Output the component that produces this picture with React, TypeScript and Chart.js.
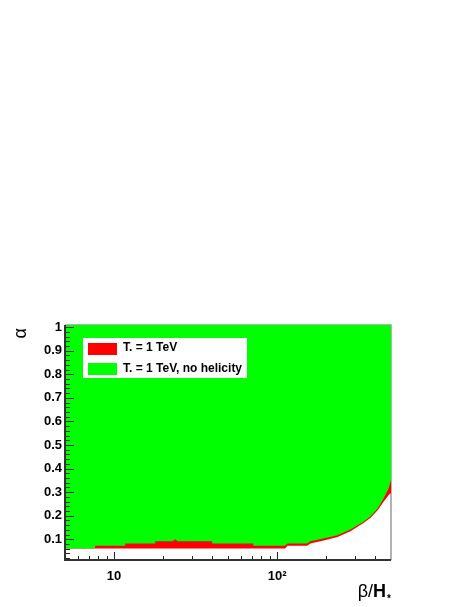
import React, { useEffect, useRef } from "react";
import { Chart, registerables } from "chart.js";
Chart.register(...registerables);

const W = 469;
const H = 607;

const xMin = 5;
const xMax = 500;
const yMin = 0.012;
const yMax = 1.009;

const yTickValues = [0.1, 0.2, 0.3, 0.4, 0.5, 0.6, 0.7, 0.8, 0.9, 1];
const xMajorTicks = [10, 100];
const xTickLabels = ["10", "10²"];
const xMinorTicks = [6, 7, 8, 9, 20, 30, 40, 50, 60, 70, 80, 90, 200, 300, 400];

// Lower boundary of the "no helicity" region (green)
const greenX = [5, 7.64, 7.64, 11.7, 11.7, 17.9, 17.9, 22.8, 23.7, 24.6, 40, 40, 71.5, 71.5, 112, 116, 153, 160, 193, 235, 282, 339, 375, 414, 450, 483, 500];
const greenY = [0.061, 0.061, 0.072, 0.072, 0.082, 0.082, 0.092, 0.092, 0.1, 0.092, 0.092, 0.082, 0.082, 0.072, 0.072, 0.082, 0.082, 0.092, 0.103, 0.117, 0.141, 0.174, 0.198, 0.231, 0.273, 0.315, 0.351];

// Lower boundary of the T* = 1 TeV region (red)
const redX = [5, 112, 116, 153, 160, 193, 235, 282, 339, 375, 414, 450, 483, 500];
const redY = [0.061, 0.061, 0.072, 0.072, 0.082, 0.095, 0.11, 0.134, 0.169, 0.191, 0.223, 0.259, 0.287, 0.297];

const legendLabels = ["T. = 1 TeV", "T. = 1 TeV, no helicity"];
const RED = "#ff0000";
const GREEN = "#00ff00";
const FONT = "'Liberation Sans', Arial, Helvetica, sans-serif";

const toPoints = (xs: number[], ys: number[]) => xs.map((x, i) => ({ x, y: ys[i] }));

const decorPlugin = {
  id: "decor",
  beforeDatasetsDraw(chart: any) {
    const { ctx, chartArea: a } = chart;
    ctx.save();
    ctx.strokeStyle = "#9a9a9a";
    ctx.lineWidth = 1.5;
    ctx.beginPath();
    ctx.moveTo(a.left, a.top);
    ctx.lineTo(a.right, a.top);
    ctx.lineTo(a.right, a.bottom);
    ctx.stroke();
    ctx.restore();
  },
  afterDatasetsDraw(chart: any) {
    const { ctx, chartArea: a, scales } = chart;
    const xs = scales.x;
    const ys = scales.y;
    ctx.save();

    // Legend
    const lx = a.left + 18;
    const ly = a.top + 13;
    ctx.fillStyle = "#ffffff";
    ctx.fillRect(lx, ly, 164, 40);
    const colors = [RED, GREEN];
    ctx.font = `bold 12px ${FONT}`;
    ctx.textBaseline = "middle";
    ctx.textAlign = "left";
    legendLabels.forEach((lab, i) => {
      ctx.fillStyle = colors[i];
      ctx.fillRect(lx + 5, ly + 5 + i * 20, 29, 12);
      ctx.fillStyle = "#000";
      ctx.fillText(lab, lx + 40, ly + 10 + i * 21);
    });

    // Inner ticks
    ctx.strokeStyle = "#222";
    ctx.lineWidth = 1;
    ctx.beginPath();
    yTickValues.forEach((v) => {
      const p = Math.round(ys.getPixelForValue(v)) + 0.5;
      ctx.moveTo(a.left, p);
      ctx.lineTo(a.left + 9, p);
    });
    for (let k = 1; k <= 50; k++) {
      const v = k * 0.02;
      if (k % 5 === 0) continue;
      const p = Math.round(ys.getPixelForValue(v)) + 0.5;
      if (p > a.bottom) continue;
      ctx.moveTo(a.left, p);
      ctx.lineTo(a.left + 5, p);
    }
    xMajorTicks.forEach((v) => {
      const p = Math.round(xs.getPixelForValue(v)) + 0.5;
      ctx.moveTo(p, a.bottom);
      ctx.lineTo(p, a.bottom - 8);
    });
    xMinorTicks.forEach((v) => {
      const p = Math.round(xs.getPixelForValue(v)) + 0.5;
      ctx.moveTo(p, a.bottom);
      ctx.lineTo(p, a.bottom - 4);
    });
    ctx.stroke();

    // Axis lines
    ctx.strokeStyle = "#333";
    ctx.lineWidth = 2;
    ctx.beginPath();
    ctx.moveTo(a.left, a.top);
    ctx.lineTo(a.left, a.bottom);
    ctx.lineTo(a.right, a.bottom);
    ctx.stroke();

    // X title: β/H*
    ctx.fillStyle = "#000";
    ctx.textBaseline = "alphabetic";
    ctx.textAlign = "left";
    const base = 597;
    ctx.font = `18px ${FONT}`;
    const p1 = "β/";
    const w1 = ctx.measureText(p1).width;
    ctx.font = `bold 18px ${FONT}`;
    const w2 = ctx.measureText("H").width;
    ctx.font = `bold 10px ${FONT}`;
    const w3 = ctx.measureText("*").width;
    let sx = a.right - (w1 + w2 + w3 + 1);
    ctx.font = `18px ${FONT}`;
    ctx.fillText(p1, sx, base);
    sx += w1;
    ctx.font = `bold 18px ${FONT}`;
    ctx.fillText("H", sx, base);
    sx += w2 + 1;
    ctx.font = `bold 10px ${FONT}`;
    ctx.fillText("*", sx, base + 5);

    // Y title: α
    ctx.save();
    ctx.translate(26, a.top + 3);
    ctx.rotate(-Math.PI / 2);
    ctx.font = `18px ${FONT}`;
    ctx.textAlign = "right";
    ctx.textBaseline = "alphabetic";
    ctx.fillText("α", 0, 0);
    ctx.restore();

    ctx.restore();
  },
};

export default function App() {
  const ref = useRef<HTMLCanvasElement | null>(null);
  useEffect(() => {
    document.body.style.margin = "0";
    const canvas = ref.current;
    if (!canvas) return;
    const chart = new Chart(canvas, {
      type: "line",
      data: {
        datasets: [
          {
            label: legendLabels[0],
            data: toPoints(redX, redY),
            backgroundColor: RED,
            borderColor: RED,
            borderWidth: 0,
            pointRadius: 0,
            fill: "end",
            tension: 0,
            order: 1,
          },
          {
            label: legendLabels[1],
            data: toPoints(greenX, greenY),
            backgroundColor: GREEN,
            borderColor: GREEN,
            borderWidth: 0,
            pointRadius: 0,
            fill: "end",
            tension: 0,
            order: 0,
          },
        ],
      },
      options: {
        animation: false,
        responsive: false,
        devicePixelRatio: 1,
        layout: { padding: { top: 325, right: 78, left: 0, bottom: 0 } },
        plugins: { legend: { display: false }, tooltip: { enabled: false } },
        scales: {
          x: {
            type: "logarithmic",
            min: xMin,
            max: xMax,
            grid: { display: false, drawTicks: false },
            border: { display: false },
            afterBuildTicks: (scale: any) => {
              scale.ticks = xMajorTicks.map((v) => ({ value: v }));
            },
            afterFit: (scale: any) => {
              scale.height = 47;
            },
            ticks: {
              autoSkip: false,
              maxRotation: 0,
              padding: 9,
              color: "#000",
              font: { family: FONT, size: 13, weight: "bold" },
              callback: (_v: any, i: number) => xTickLabels[i],
            },
          },
          y: {
            type: "linear",
            min: yMin,
            max: yMax,
            grid: { display: false, drawTicks: false },
            border: { display: false },
            afterBuildTicks: (scale: any) => {
              scale.ticks = yTickValues.map((v) => ({ value: v }));
            },
            afterFit: (scale: any) => {
              scale.width = 65;
            },
            ticks: {
              autoSkip: false,
              padding: 3,
              color: "#000",
              font: { family: FONT, size: 13, weight: "bold" },
              callback: (v: any) => (v === 1 ? "1" : Number(v).toFixed(1)),
            },
          },
        },
      },
      plugins: [decorPlugin],
    } as any);
    return () => chart.destroy();
  }, []);
  return (
    <div style={{ position: "absolute", left: 0, top: 0, width: W, height: H }}>
      <canvas ref={ref} width={W} height={H} />
    </div>
  );
}
